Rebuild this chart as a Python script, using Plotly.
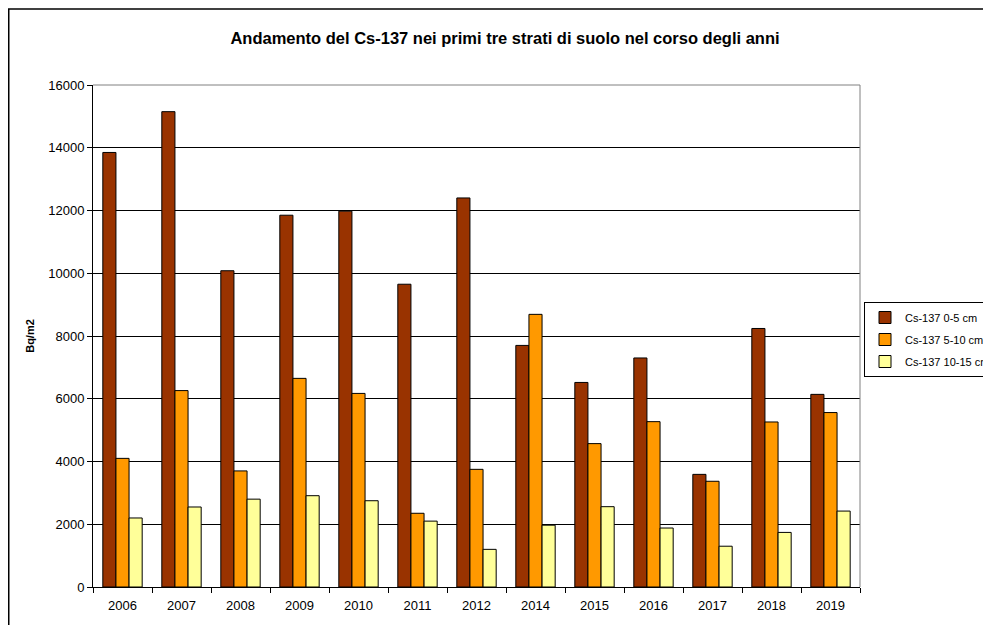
import plotly.graph_objects as go

years = ["2006", "2007", "2008", "2009", "2010", "2011", "2012",
         "2014", "2015", "2016", "2017", "2018", "2019"]
cs_0_5 = [13850, 15150, 10080, 11850, 11980, 9650, 12400,
          7700, 6520, 7300, 3590, 8240, 6140]
cs_5_10 = [4100, 6260, 3700, 6650, 6170, 2350, 3750,
           8690, 4570, 5270, 3370, 5260, 5560]
cs_10_15 = [2200, 2550, 2800, 2910, 2750, 2100, 1200,
            1970, 2560, 1880, 1300, 1740, 2420]
series_names = ["Cs-137 0-5 cm", "Cs-137 5-10 cm", "Cs-137 10-15 cm"]
colors = ["#993300", "#FF9900", "#FFFF99"]
y_ticks = [0, 2000, 4000, 6000, 8000, 10000, 12000, 14000, 16000]

FONT = "Arial, Liberation Sans, sans-serif"

fig = go.Figure()
for i, (name, vals, col) in enumerate(zip(series_names, [cs_0_5, cs_5_10, cs_10_15], colors)):
    fig.add_trace(go.Bar(
        x=years, y=vals, name=name, legendgroup="g%d" % i,
        marker=dict(color=col, line=dict(color="#000000", width=1)),
    ))

# page body has an 8px margin; figure sized so that it fits the window
OFF = 8
W, H = 983, 617
L, R, T, B = 85, 131, 77, 38
pw, ph = W - L - R, H - T - B

def px_x(p):  # screen px -> plot paper x
    return (p - OFF - L) / pw

def px_y(p):  # screen px -> plot paper y
    return (OFF + H - B - p) / ph

fig.update_layout(
    width=W, height=H,
    margin=dict(l=L, r=R, t=T, b=B, autoexpand=False),
    paper_bgcolor="white", plot_bgcolor="white",
    barmode="group", bargap=0.333, bargroupgap=0,
    font=dict(family=FONT, size=11, color="#000000"),
    title=dict(
        text="<b>Andamento del Cs-137 nei primi tre strati di suolo nel corso degli anni</b>",
        x=(505 - OFF) / W, xanchor="center",
        y=1 - (38 - OFF) / H, yanchor="middle",
        font=dict(family=FONT, size=16.5, color="#000000"),
    ),
    showlegend=True,
    legend=dict(
        x=px_x(864), xanchor="left",
        y=px_y(302), yanchor="top",
        bgcolor="white", bordercolor="#000000", borderwidth=1,
        font=dict(family=FONT, size=11, color="#000000"),
        tracegroupgap=3, itemwidth=30,
    ),
    xaxis=dict(
        type="category",
        showgrid=False,
        showline=True, linecolor="#000000", linewidth=1,
        ticks="outside", ticklen=5, tickcolor="#000000",
        tickson="boundaries",
        ticklabelstandoff=6,
        tickfont=dict(family=FONT, size=13, color="#000000"),
    ),
    yaxis=dict(
        range=[0, 16000],
        tickvals=y_ticks,
        ticktext=[str(v) for v in y_ticks],
        showgrid=True, gridcolor="#000000", gridwidth=1,
        showline=True, linecolor="#000000", linewidth=1,
        ticks="outside", ticklen=5, tickcolor="#000000",
        tickfont=dict(family=FONT, size=13, color="#000000"),
        zeroline=False,
        title=dict(text="<b>Bq/m2</b>", standoff=11,
                   font=dict(family=FONT, size=11, color="#000000")),
    ),
)

# plot-area frame (gray top and right edges)
fig.add_shape(type="line", xref="paper", yref="paper", x0=0, x1=1, y0=1, y1=1,
              line=dict(color="#808080", width=1))
fig.add_shape(type="line", xref="paper", yref="paper", x0=1, x1=1, y0=0, y1=1,
              line=dict(color="#808080", width=1))

# outer chart border (left and top visible)
fig.add_shape(type="line", xref="paper", yref="paper",
              x0=px_x(8.75), x1=px_x(8.75), y0=px_y(9), y1=px_y(700),
              line=dict(color="#000000", width=1.5))
fig.add_shape(type="line", xref="paper", yref="paper",
              x0=px_x(8), x1=px_x(1100), y0=px_y(9), y1=px_y(9),
              line=dict(color="#000000", width=1.5))

fig.write_html("out.html")
